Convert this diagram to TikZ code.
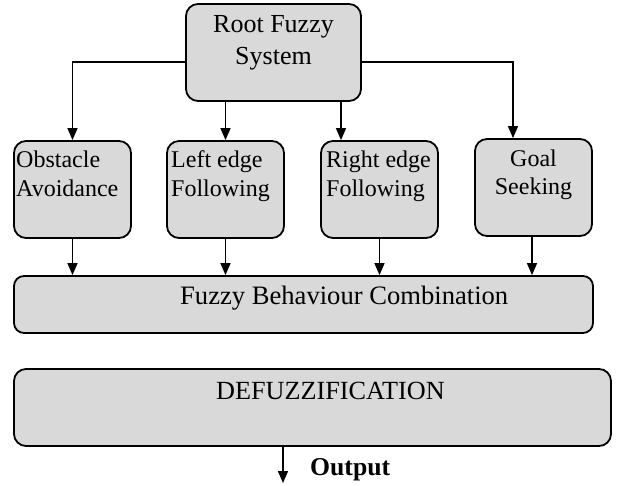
\documentclass[tikz,border=0pt]{standalone}
\usepackage{fontspec}
\setmainfont{Liberation Serif}
\usetikzlibrary{arrows.meta}
\definecolor{boxgray}{RGB}{217,217,217}
\tikzset{
  box/.style={draw=black, line width=1.8pt, fill=boxgray, rounded corners=12pt, inner sep=0pt},
  txt/.style={inner sep=0pt, anchor=base},
  arr/.style={line width=1.4pt, -{Triangle[length=12pt,width=10pt]}},
}
\begin{document}
\begin{tikzpicture}[x=1pt,y=-1pt]
\useasboundingbox (0,0) rectangle (621,486);
% boxes
\node[box, minimum width=175pt, minimum height=97pt] (root) at (273.5,52.5) {};
\node[box, minimum width=117pt, minimum height=97pt] (obs) at (72.5,189.5) {};
\node[box, minimum width=117pt, minimum height=97pt] (left) at (225.5,189.5) {};
\node[box, minimum width=117pt, minimum height=97pt] (right) at (379.5,189.5) {};
\node[box, minimum width=117pt, minimum height=97pt] (goal) at (533.5,187.5) {};
\node[box, rounded corners=10pt, minimum width=579pt, minimum height=57pt] (combo) at (303.5,304.5) {};
\node[box, minimum width=597pt, minimum height=77pt] (defuzz) at (312.5,407.5) {};
% texts
\begin{scope}[every node/.style={txt}, font=\fontsize{26}{32}\selectfont]
\node (rootA) at (273.5,33) {Root Fuzzy};
\node (rootB) at (273.5,65) {System};
\end{scope}
\begin{scope}[font=\fontsize{24}{29}\selectfont]
\node[txt, anchor=base west] (obsA) at (16,168) {Obstacle};
\node[txt, anchor=base west] (obsB) at (16,197) {Avoidance};
\node[txt, anchor=base west] (leftA) at (171,168) {Left edge};
\node[txt, anchor=base west] (leftB) at (171,197) {Following};
\node[txt, anchor=base west] (rightA) at (326,168) {Right edge};
\node[txt, anchor=base west] (rightB) at (326,197) {Following};
\node[txt] (goalA) at (533.5,167) {Goal};
\node[txt] (goalB) at (533.5,195) {Seeking};
\end{scope}
\node[txt, anchor=base west, font=\fontsize{26.6}{32}\selectfont] (comboT) at (180,305) {Fuzzy Behaviour Combination};
\node[txt, anchor=base west, font=\fontsize{26.2}{32}\selectfont] (defuzzT) at (216,399) {DEFUZZIFICATION};
\node[txt, anchor=base west, font=\fontsize{25.7}{32}\selectfont\bfseries] (outT) at (310,475) {Output};
% connectors
\draw[arr] ([yshift=-9.5pt]root.west) -| (obs.north);
\draw[arr] ([yshift=-9.5pt]root.east) -| ([xshift=-20.5pt]goal.north);
\draw[arr] (left.north |- root.south) -- (left.north);
\draw[arr] ([xshift=-38.5pt]right.north |- root.south) -- ([xshift=-38.5pt]right.north);
\draw[arr] (obs.south) -- (obs.south |- combo.north);
\draw[arr] (left.south) -- (left.south |- combo.north);
\draw[arr] (right.south) -- (right.south |- combo.north);
\draw[arr] ([xshift=-1.5pt]goal.south) -- ([xshift=-1.5pt]goal.south |- combo.north);
\coordinate (outend) at (283,483);
\draw[arr] (outend |- defuzz.south) -- (outend);
\end{tikzpicture}
\end{document}
